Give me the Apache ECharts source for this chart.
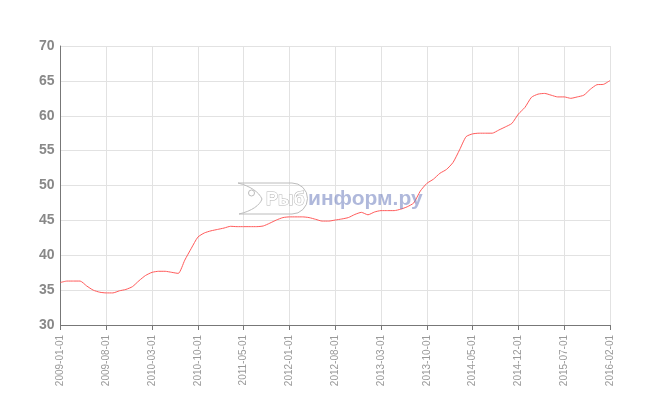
<!DOCTYPE html>
<html>
<head>
<meta charset="utf-8">
<script src="https://cdn.jsdelivr.net/npm/echarts@6/dist/echarts.min.js"></script>
<style>html,body{margin:0;padding:0;background:#fff}#c{width:650px;height:400px}</style>
</head>
<body>
<div id="c"></div>
<script>
// Months 2009-01 .. 2016-02 (one month missing in the 2011 second half)
const dates = [
  '2009-01-01','2009-02-01','2009-03-01','2009-04-01','2009-05-01','2009-06-01','2009-07-01','2009-08-01','2009-09-01','2009-10-01','2009-11-01','2009-12-01',
  '2010-01-01','2010-02-01','2010-03-01','2010-04-01','2010-05-01','2010-06-01','2010-07-01','2010-08-01','2010-09-01','2010-10-01','2010-11-01','2010-12-01',
  '2011-01-01','2011-02-01','2011-03-01','2011-04-01','2011-05-01','2011-06-01','2011-07-01','2011-08-01','2011-10-01','2011-11-01','2011-12-01',
  '2012-01-01','2012-02-01','2012-03-01','2012-04-01','2012-05-01','2012-06-01','2012-07-01','2012-08-01','2012-09-01','2012-10-01','2012-11-01','2012-12-01',
  '2013-01-01','2013-02-01','2013-03-01','2013-04-01','2013-05-01','2013-06-01','2013-07-01','2013-08-01','2013-09-01','2013-10-01','2013-11-01','2013-12-01',
  '2014-01-01','2014-02-01','2014-03-01','2014-04-01','2014-05-01','2014-06-01','2014-07-01','2014-08-01','2014-09-01','2014-10-01','2014-11-01','2014-12-01',
  '2015-01-01','2015-02-01','2015-03-01','2015-04-01','2015-05-01','2015-06-01','2015-07-01','2015-08-01','2015-09-01','2015-10-01','2015-11-01','2015-12-01',
  '2016-01-01','2016-02-01'
];
const prices = [
  36.1,36.3,36.3,36.3,35.6,35.0,34.7,34.6,34.6,34.9,35.1,35.5,
  36.35,37.1,37.55,37.7,37.7,37.55,37.4,39.3,41.0,42.6,43.2,43.5,
  43.7,43.9,44.15,44.1,44.1,44.1,44.1,44.2,44.6,45.05,45.4,
  45.5,45.5,45.5,45.4,45.15,44.9,44.9,45.05,45.2,45.4,45.85,46.15,
  45.8,46.2,46.4,46.4,46.4,46.6,46.95,47.5,49.2,50.3,50.9,51.75,
  52.3,53.3,55.1,57.0,57.4,57.5,57.5,57.5,57.95,58.4,58.9,60.25,
  61.2,62.65,63.1,63.2,62.95,62.7,62.7,62.5,62.7,62.95,63.8,64.45,
  64.5,65.05
];
const yMin = 30, yMax = 70, yStep = 5;

const chart = echarts.init(document.getElementById('c'), null, {renderer: 'canvas'});
const wmStroke = {stroke: '#bcbcbc', lineWidth: 1, fill: null};
chart.setOption({
  animation: false,
  backgroundColor: '#ffffff',
  grid: {left: 60.5, right: 40, top: 46, bottom: 75, containLabel: false},
  xAxis: {
    type: 'category',
    data: dates,
    boundaryGap: false,
    axisLine: {show: true, lineStyle: {color: '#777', width: 1}},
    axisTick: {show: true, interval: 6, length: 5, lineStyle: {color: '#777'}},
    axisLabel: {interval: 6, rotate: 90, color: '#999', fontSize: 10, fontFamily: 'Liberation Sans, Arial', margin: 10},
    splitLine: {show: true, interval: 6, lineStyle: {color: '#e2e2e2', width: 1}}
  },
  yAxis: {
    type: 'value',
    min: yMin, max: yMax, interval: yStep,
    axisLine: {show: true, lineStyle: {color: '#777', width: 1}},
    axisTick: {show: false},
    axisLabel: {color: '#888', fontSize: 14, fontWeight: 'bold', fontFamily: 'Liberation Sans, Arial', margin: 6},
    splitLine: {show: true, lineStyle: {color: '#e2e2e2', width: 1}}
  },
  series: [{
    type: 'line',
    data: prices,
    symbol: 'none',
    smooth: 0.2,
    lineStyle: {color: '#ff5a5a', width: 1},
    z: 2
  }],
  graphic: [
    {type: 'line', x: 238, y: 183, z: 100, silent: true, shape: {x1: 0, y1: 0, x2: 54, y2: 0}, style: wmStroke},
    {type: 'line', x: 238, y: 183, z: 100, silent: true, shape: {x1: 1, y1: 31, x2: 54, y2: 31}, style: wmStroke},
    {type: 'arc', x: 238, y: 183, z: 100, silent: true, shape: {cx: 54, cy: 15.5, r: 15.5, startAngle: -Math.PI / 2, endAngle: Math.PI / 2, clockwise: true}, style: wmStroke},
    {type: 'bezierCurve', x: 238, y: 183, z: 100, silent: true, shape: {x1: 0, y1: 0, cpx1: 12, cpy1: 3, cpx2: 21, cpy2: 9, x2: 24, y2: 16}, style: wmStroke},
    {type: 'bezierCurve', x: 238, y: 183, z: 100, silent: true, shape: {x1: 24, y1: 16, cpx1: 22, cpy1: 22, cpx2: 14, cpy2: 28, x2: 1, y2: 31}, style: wmStroke},
    {type: 'circle', x: 238, y: 183, z: 100, silent: true, shape: {cx: 13.5, cy: 10, r: 3}, style: wmStroke},
    {type: 'text', x: 266, y: 191, z: 100, silent: true,
     style: {text: 'Рыб', font: 'bold 18px "Liberation Sans", Arial', fill: '#ffffff', stroke: '#b4b4b4', lineWidth: 1}},
    {type: 'text', x: 308, y: 189, z: 100, silent: true,
     style: {text: 'информ.ру', font: 'bold 21px "Liberation Sans", Arial', fill: 'rgba(110,125,190,0.55)'}}
  ]
});
</script>
</body>
</html>
